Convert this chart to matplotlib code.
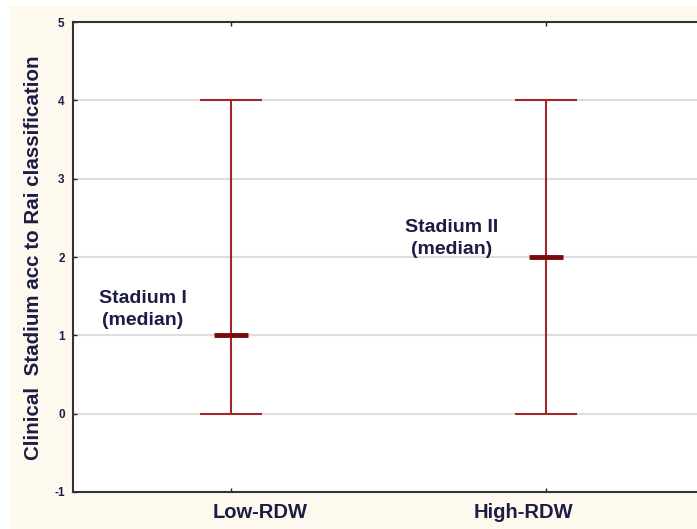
import matplotlib
matplotlib.use("Agg")
import matplotlib.pyplot as plt
import matplotlib.transforms as mtransforms
from matplotlib.patches import Rectangle

# Rai stage by RDW group: median with min/max range
groups = ["Low-RDW", "High-RDW"]
medians = [1, 2]
mins = [0, 0]
maxs = [4, 4]
notes = ["Stadium I\n(median)", "Stadium II\n(median)"]
note_pos = [(0.722, 1.33), (1.703, 2.24)]
label_shift = [30, -22]   # px, group labels are hand-placed off the ticks

yticks = [-1, 0, 1, 2, 3, 4, 5]

txtColor = "#1c1c45"
barColor = "#a3262b"
medColor = "#7a0a0e"
cream = "#fef9ee"

plt.rcParams['font.family'] = ['Liberation Sans', 'DejaVu Sans']

fig = plt.figure(figsize=(6.97, 5.29), dpi=100)
fig.patch.set_facecolor("white")
# cream panel behind the plot
fig.patches.append(Rectangle((10/697, 0), 1, 1 - 6/529, transform=fig.transFigure,
                             facecolor=cream, edgecolor="none", zorder=-10))

ax = fig.add_axes([73/697, 37/529, 630/697, 470/529])
ax.set_facecolor("white")

x = list(range(1, len(groups) + 1))
lowErr = [m - lo for m, lo in zip(medians, mins)]
upErr = [hi - m for m, hi in zip(medians, maxs)]
ax.errorbar(x, medians, yerr=[lowErr, upErr], fmt="none", ecolor=barColor,
            elinewidth=1.5, capsize=22.5, capthick=1.5, zorder=3)
ax.plot(x, medians, linestyle="none", marker="_", markersize=24,
        markeredgewidth=3.5, color=medColor, zorder=4)

for (tx, ty), s in zip(note_pos, notes):
    ax.text(tx, ty, s, ha="center", va="center", fontsize=14,
            fontweight="bold", color=txtColor, linespacing=1.4)

ax.set_xlim(0.5, 2.5)
ax.set_ylim(-1, 5)
ax.set_xticks(x)
ax.set_xticklabels([])
# group names sit under the axis, nudged sideways from their ticks
base = mtransforms.blended_transform_factory(ax.transData, ax.transAxes)
for xi, name, dx in zip(x, groups, label_shift):
    tr = mtransforms.offset_copy(base, fig=fig, x=dx, y=-21, units="dots")
    ax.text(xi, 0, name, transform=tr, ha="center", va="center", fontsize=14.5,
            fontweight="bold", color=txtColor, clip_on=False)

ax.set_yticks(yticks)
ax.set_yticklabels([str(v) for v in yticks], fontsize=8.5, fontweight="bold", color=txtColor)
ax.tick_params(axis="both", direction="in", length=3, width=1, color="#222222",
               top=True, bottom=True, left=True, right=False)
ax.tick_params(axis="y", pad=6)

for v in range(0, 5):
    ax.axhline(v, color="#dddddd", linewidth=1.5, zorder=1)

for sp in ["top", "bottom", "left"]:
    ax.spines[sp].set_linewidth(1.5)
    ax.spines[sp].set_color("#333333")
ax.spines["right"].set_visible(False)

fig.text(34/697, 0.5 + 7/529, "Clinical  Stadium acc to Rai classification", rotation=90,
         ha="center", va="center", fontsize=14.8, fontweight="bold", color=txtColor)

fig.savefig("out.png", dpi=100)
